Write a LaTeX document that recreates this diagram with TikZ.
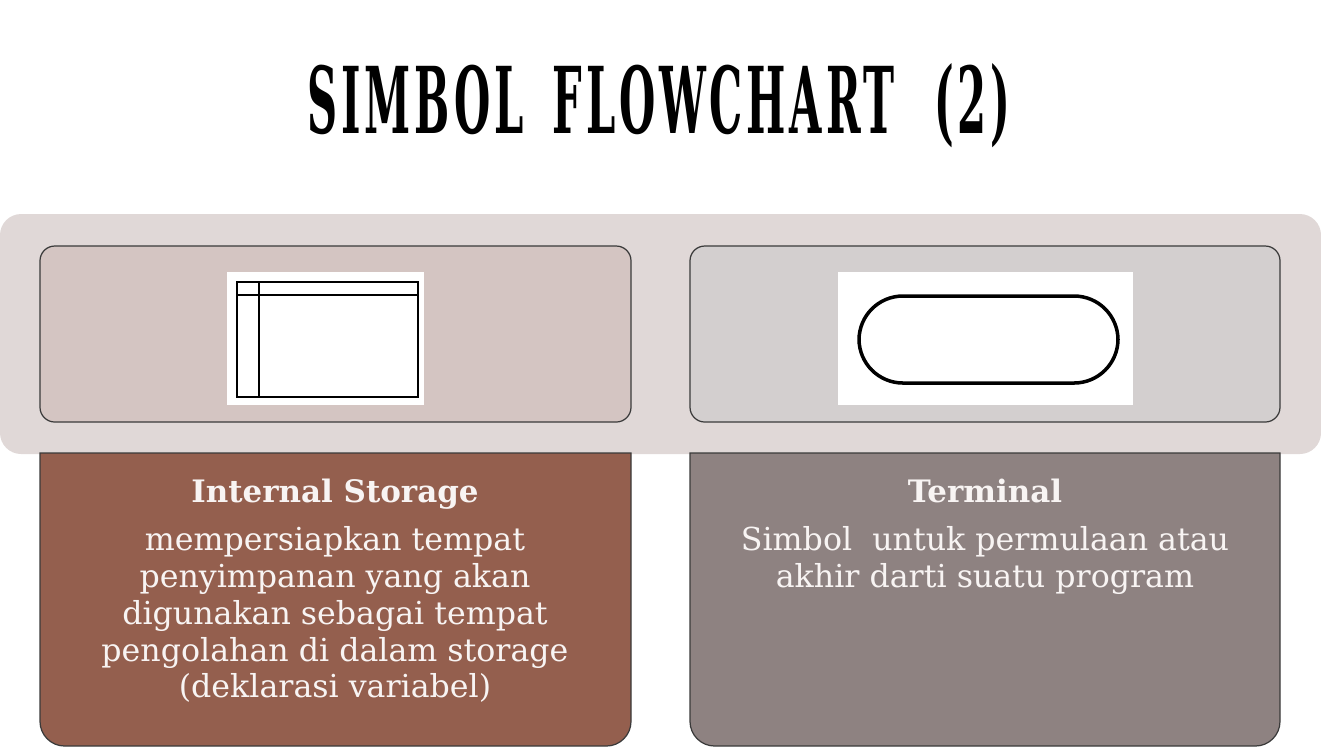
\documentclass[tikz,border=0pt]{standalone}
\usepackage{fontspec}
\usepackage{graphicx}
\setmainfont{DejaVu Serif}
\newfontfamily\headfont[LetterSpace=9]{DejaVu Serif}
\usetikzlibrary{positioning}
\definecolor{slidebg}{HTML}{E0D8D7}
\definecolor{topleft}{HTML}{D4C5C2}
\definecolor{topright}{HTML}{D3CFCF}
\definecolor{brownbox}{HTML}{945F4E}
\definecolor{greybox}{HTML}{8E8281}
\definecolor{edgegrey}{HTML}{3A3A3A}
\definecolor{lighttext}{HTML}{F8F4F3}
\tikzset{
band/.style={fill=slidebg,draw=none},
symbox/.style={draw=edgegrey,line width=0.35pt,rounded corners=4.2pt},
descbox/.style={draw=edgegrey,line width=0.35pt},
pic/.style={fill=white,draw=none},
symline/.style={draw=black,line width=0.8pt},
headtxt/.style={font=\fontsize{8.8}{11}\selectfont\bfseries,text=lighttext,inner sep=0pt,anchor=base},
bodytxt/.style={font=\fontsize{9}{10.45}\selectfont,text=lighttext,align=center,inner sep=0pt,anchor=north}
}
\begin{document}
\begin{tikzpicture}[x=0.01cm,y=-0.01cm]
\useasboundingbox (0,0) rectangle (1321,747);
\node[inner sep=0pt] (title) at (659,106) {\resizebox{7.02cm}{0.70cm}{\headfont\bfseries SIMBOL\hspace{0.7em}FLOWCHART\hspace{0.95em}(2)}};
\fill[band,rounded corners=6pt] (0,214) rectangle (1321,454);
\draw[symbox,fill=topleft] (40,246) rectangle (631,422);
\draw[symbox,fill=topright] (690,246) rectangle (1280,422);
\fill[pic] (227,272) rectangle (424,405);
\draw[symline] (237,282) rectangle (418,397);
\draw[symline] (237,295) -- (418,295);
\draw[symline] (259,282) -- (259,397);
\fill[pic] (838,272) rectangle (1133,405);
\draw[symline,line width=1pt,rounded corners=12.5pt] (859,296) rectangle (1118,383);
\draw[descbox,fill=brownbox] (40,453) [rounded corners=7pt] -- (40,746) -- (631,746) [sharp corners] -- (631,453) -- cycle;
\draw[descbox,fill=greybox] (690,453) [rounded corners=7pt] -- (690,746) -- (1280,746) [sharp corners] -- (1280,453) -- cycle;
\node[headtxt] (stohead) at (335,502) {Internal Storage};
\node[bodytxt] (stobody) at (335,526) {mempersiapkan tempat\\penyimpanan yang akan\\digunakan sebagai tempat\\pengolahan di dalam storage\\(deklarasi variabel)};
\node[headtxt] (termhead) at (985,502) {Terminal};
\node[bodytxt] (termbody) at (985,526) {Simbol\ \ untuk permulaan atau\\akhir darti suatu program};
\end{tikzpicture}
\end{document}
